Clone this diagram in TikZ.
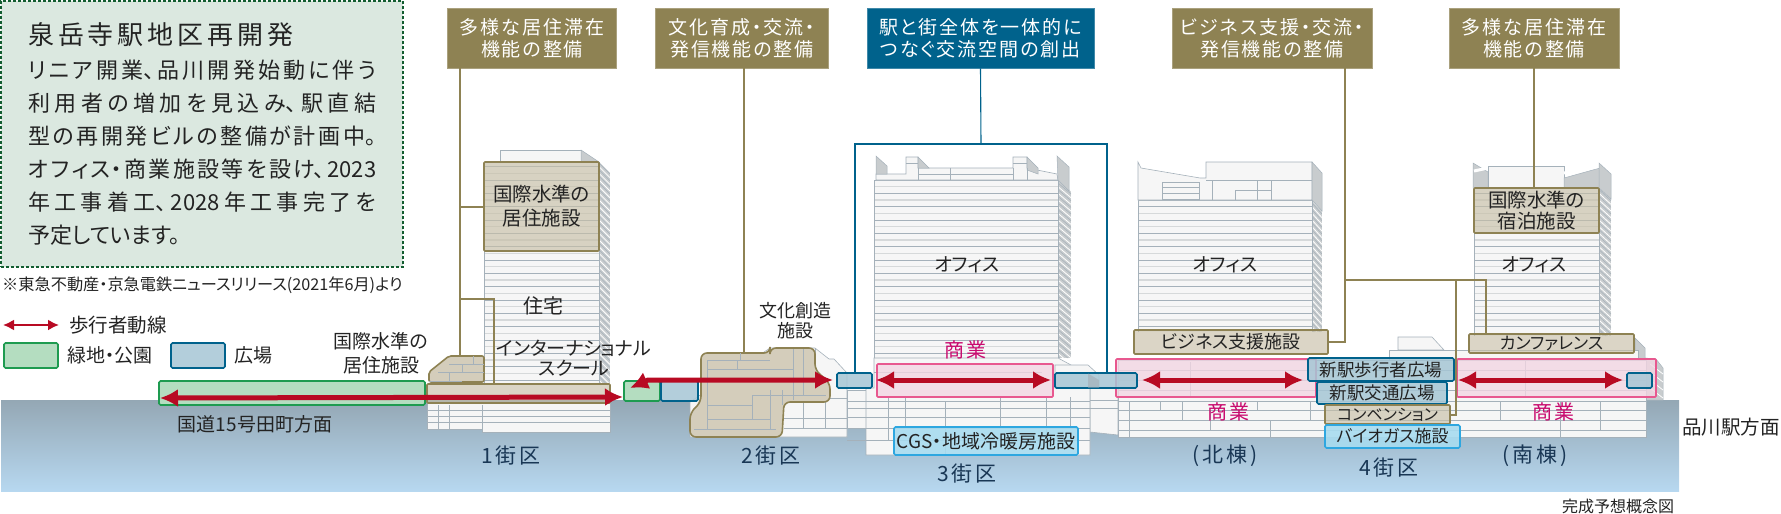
\documentclass[tikz,border=0pt]{standalone}
\usepackage{fontspec}
\setmainfont[RawFeature=+palt]{Noto Sans CJK JP}
\newfontfamily\jpsp[LetterSpace=10,RawFeature=+palt]{Noto Sans CJK JP}
\newfontfamily\jpwd[LetterSpace=15,RawFeature=+palt]{Noto Sans CJK JP}
\definecolor{kbrown}{RGB}{142,130,83}
\definecolor{kblue}{RGB}{0,98,140}
\definecolor{kred}{RGB}{184,10,35}
\definecolor{kpink}{RGB}{232,88,143}
\definecolor{kpinkfill}{RGB}{243,214,226}
\definecolor{kbeige}{RGB}{199,191,167}
\definecolor{ktan}{RGB}{212,205,187}
\definecolor{kgreen}{RGB}{30,155,80}
\definecolor{kgreenfill}{RGB}{180,221,192}
\definecolor{knote}{RGB}{219,232,224}
\definecolor{kplaza}{RGB}{166,198,213}
\definecolor{ksky}{RGB}{168,220,240}
\definecolor{kskyline}{RGB}{46,167,224}
\definecolor{kmagenta}{RGB}{200,10,110}
\definecolor{kwall}{RGB}{246,246,246}
\definecolor{kline}{RGB}{165,177,186}
\definecolor{kside}{RGB}{200,204,206}
\definecolor{kink}{RGB}{35,35,35}
\definecolor{knavy}{RGB}{25,55,85}
\definecolor{kgroundtop}{RGB}{148,167,180}
\definecolor{kgroundbot}{RGB}{183,216,240}
\usetikzlibrary{arrows.meta,positioning}
\tikzset{
  headbox/.style={fill=kbrown,draw=kbrown!75!white,line width=.8pt,text=white,minimum height=60pt,inner sep=0pt,align=center,font=\jpsp\fontsize{19}{22}\selectfont},
  tanbox/.style={fill=kbeige,fill opacity=.65,text opacity=1,draw=kbrown,line width=1.6pt,rounded corners=1pt,inner sep=0pt,align=center,text=kink},
  plazabox/.style={fill=kplaza,fill opacity=.85,text opacity=1,draw=kblue,line width=1.6pt,rounded corners=1.5pt,inner sep=0pt,align=center,text=kink},
  skybox/.style={fill=ksky,fill opacity=.9,text opacity=1,draw=kskyline,line width=1.6pt,rounded corners=1.5pt,inner sep=0pt,align=center,text=kink},
  shopbox/.style={fill=kpinkfill,fill opacity=.8,draw=kpink,line width=1.6pt,rounded corners=1pt,inner sep=0pt},
  parkbox/.style={fill=kgreenfill,draw=kgreen,line width=1.6pt,rounded corners=1.5pt,inner sep=0pt},
  lab/.style={text=kink,inner sep=0pt,align=center,font=\fontsize{19}{24}\selectfont},
  shoplab/.style={text=kmagenta,inner sep=0pt,font=\jpsp\fontsize{20}{24}\selectfont},
  blocklab/.style={text=knavy,inner sep=0pt,font=\jpwd\fontsize{21}{24}\selectfont},
  leader/.style={draw=kbrown,line width=1.1pt},
  leaderb/.style={draw=kblue,line width=1.1pt},
  walk/.style={draw=kred,line width=5pt,{Latex[length=18pt,width=18pt]}-{Latex[length=18pt,width=18pt]}},
  wall/.style={fill=kwall,draw=kline,line width=.6pt},
  wedge/.style={fill=kside,draw=kline,line width=.5pt},
  grid/.style={draw=kline,line width=.7pt},
}
\begin{document}
\begin{tikzpicture}[x=1pt,y=-1pt]
  \useasboundingbox (0,0) rectangle (1781,514);
  % ground
  \shade[top color=kgroundtop,bottom color=kgroundbot] (1,400) rectangle (1679,491);
  % towers: left, right, side, top, bottom
  \foreach \xa/\xb/\xc/\ya/\yb in {484/599/610/162/385, 874/1058/1071/180/358, 1138/1312/1322/200/332, 1474/1599/1611/188/336}{
    \begin{scope}
      \clip (\xb,\ya) -- (\xc,\ya+11) -- (\xc,\yb) -- (\xb,\yb) -- cycle;
      \fill[kside] (\xb,\ya) rectangle (\xc,\yb);
      \foreach \y in {140,146.67,...,400}
        \draw[white,line width=.8pt] (\xb,\y) -- (\xc,\y+11);
      \foreach \y in {143,149.67,...,403}
        \draw[kline,line width=.5pt] (\xb,\y) -- (\xc,\y+11);
    \end{scope}
    \fill[kwall] (\xa,\ya) rectangle (\xb,\yb);
    \begin{scope}
      \clip (\xa,\ya) rectangle (\xb,\yb);
      \foreach \y in {140,153.34,...,400}
        \draw[kline,line width=.8pt] (\xa,\y) -- (\xb,\y);
      \foreach \y in {146.67,160.01,...,400}
        \draw[kside!75!white,line width=1.3pt] (\xa,\y) -- (\xb,\y);
    \end{scope}
    \draw[kline,line width=.6pt] (\xa,\yb) -- (\xa,\ya) -- (\xb,\ya) -- (\xb,\yb);
  }
  % 1 block top and base
  \draw[wall] (500,162) -- (500,150) -- (581,150) -- (581,162) -- cycle;
  \draw[wedge] (581,150) -- (599,162) -- (581,162) -- cycle;
  \draw[wall] (427,403) -- (610,403) -- (610,432) -- (482,432) -- (482,429) -- (427,429) -- cycle;
  \foreach \y in {410,416,422}
    \draw[grid] (427,\y) -- (610,\y);
  \foreach \x in {438,449,482}
    \draw[grid] (\x,405) -- (\x,429);
  % 2 block back
  \draw[wall] (770,348) -- (815,348) -- (829,359) -- (834,359) -- (847,373) -- (847,437) -- (690,437) -- (690,402) -- cycle;
  \foreach \x/\ya/\yb in {803/395/428, 825/395/428, 815/348/359}
    \draw[grid] (\x,\ya) -- (\x,\yb);
  \foreach \y in {398,418,428}
    \draw[grid] (784,\y) -- (847,\y);
  % 3 block roof
  \draw[wall] (876,174) -- (906,174) -- (906,157) -- (918,157) -- (918,168) -- (1013,168) -- (1013,157) -- (1027,157) -- (1027,168) -- (1057,174) -- (1058,180) -- (876,180) -- cycle;
  \draw[wedge] (876,156) -- (887,166) -- (887,174) -- (876,174) -- cycle;
  \draw[wedge] (918,157) -- (929,168) -- (918,168) -- cycle;
  \draw[wedge] (1027,157) -- (1038,168) -- (1038,174) -- (1027,170) -- cycle;
  \draw[wedge] (1057,156) -- (1069,167) -- (1069,191) -- (1058,180) -- cycle;
  \foreach \xa/\xb/\y in {906/918/163, 1013/1027/163, 918/1013/174}
    \draw[grid] (\xa,\y) -- (\xb,\y);
  \foreach \x/\ya/\yb in {918/168/180, 950/168/180, 1013/168/180, 1027/168/180}
    \draw[grid] (\x,\ya) -- (\x,\yb);
  % 3 block podium and the wings round it
  \draw[wall] (847,390) rectangle (866,428);
  \draw[wall] (1090,388) -- (1118,388) -- (1118,435) -- (1090,432) -- cycle;
  \draw[wall] (866,388) -- (874,388) -- (874,358) -- (1058,358) -- (1071,365) -- (1071,388) -- (1090,388) -- (1090,455) -- (866,455) -- cycle;
  \draw[wall] (1055,365) -- (1088,365) -- (1099,375) -- (1099,388) -- (1055,388) -- cycle;
  \foreach \y in {401,408,417,428,440}
    \draw[grid] (847,\y) -- (1090,\y);
  \foreach \y in {400,408}
    \draw[grid] (1090,\y) -- (1118,\y);
  \foreach \x/\ya/\yb in {888/397/440, 905/397/428, 945/401/455, 1000/397/428, 1046/397/440, 1070/397/428}
    \draw[grid] (\x,\ya) -- (\x,\yb);
  \foreach \xa/\xb/\y in {874/960/372, 960/1042/372, 900/960/364}
    \draw[grid] (\xa,\y) -- (\xb,\y);
  % 4 block roof north
  \draw[wall] (1138,200) -- (1138,162) -- (1141,168) -- (1200,178) -- (1206,178) -- (1206,162) -- (1312,162) -- (1312,200) -- cycle;
  \draw[wedge] (1312,162) -- (1322,173) -- (1322,211) -- (1312,200) -- cycle;
  \foreach \y in {187,193,199}
    \draw[grid] (1162,\y) -- (1199,\y);
  \draw[grid] (1162,182) -- (1199,182) -- (1199,200);
  \draw[grid] (1162,182) -- (1162,200);
  \draw[grid] (1206,180) -- (1312,180);
  \foreach \x in {1212,1257,1271}
    \draw[grid] (\x,180) -- (\x,200);
  \draw[grid] (1235,200) -- (1235,190) -- (1271,190);
  % 4 block roof south
  \draw[wedge] (1473,163) -- (1488,172) -- (1488,188) -- (1473,188) -- cycle;
  \draw[white,line width=3pt] (1474,171) -- (1488,168);
  \draw[wall] (1488,188) -- (1488,166) -- (1564,166) -- (1564,188);
  \draw[wedge] (1564,178) -- (1600,168) -- (1600,188) -- (1564,188) -- cycle;
  \draw[white,line width=3pt] (1564,173) -- (1600,166);
  \draw[wedge] (1599,163) -- (1611,174) -- (1611,199) -- (1599,188) -- cycle;
  % 4 block podium
  \draw[wall] (1398,350) -- (1398,337) -- (1432,337) -- (1444,350) -- cycle;
  \draw[wedge] (1635,338) -- (1645,348) -- (1645,358) -- (1656,359) -- (1663,368) -- (1663,400) -- (1635,400) -- cycle;
  \foreach \y in {370,378,386,394}
    \draw[white,line width=.8pt] (1650,\y-6) -- (1663,\y+4);
  \draw[wall] (1389,350) rectangle (1638,360);
  \draw[wall] (1118,360) rectangle (1646,437);
  \foreach \y in {370,380,390,401,410,420,430}
    \draw[grid] (1118,\y) -- (1646,\y);
  \foreach \x/\ya/\yb in {1129/401/437, 1160/401/410, 1182/401/420, 1190/362/397, 1257/401/410, 1270/420/437, 1310/401/420, 1500/401/420, 1560/401/437, 1210/410/430, 1600/401/430, 1525/361/397}
    \draw[grid] (\x,\ya) -- (\x,\yb);
  % shop floors
  \node[shopbox,minimum width=176pt,minimum height=33pt] (shopthree) at (965,380.5) {};
  \node[shopbox,minimum width=200pt,minimum height=38pt] (shopnorth) at (1216,378) {};
  \node[shopbox,minimum width=199pt,minimum height=38pt] (shopsouth) at (1556.5,378) {};
  % parks and squares
  \node[parkbox,minimum width=266pt,minimum height=24pt] (parkroad) at (292,393) {};
  \node[parkbox,minimum width=36pt,minimum height=20pt] (parksmall) at (642,391) {};
  \node[plazabox,minimum width=37pt,minimum height=20pt] (plazaleft) at (679.5,391) {};
  \node[plazabox,minimum width=35pt,minimum height=15pt] (plazamid) at (854.5,380.5) {};
  \node[plazabox,minimum width=82pt,minimum height=15pt] (plazaright) at (1096,380.5) {};
  \fill[kline,opacity=.7] (1088,373.5) -- (1099,380) -- (1099,387.5) -- (1088,387.5) -- cycle;
  \node[plazabox,minimum width=25pt,minimum height=15pt] (plazasouth) at (1639.5,380.5) {};
  % tan areas
  \draw[fill=ktan,draw=kbrown,line width=1.6pt,rounded corners=2pt] (429,382) -- (429,372) -- (449,356) -- (484,356) -- (484,382) -- cycle;
  \foreach \xa/\xb/\y in {449/484/364, 438/484/372, 429/462/381}
    \draw[grid] (\xa,\y) -- (\xb,\y);
  \foreach \x/\ya/\yb in {449/372/381, 462/364/372, 473/356/364}
    \draw[grid] (\x,\ya) -- (\x,\yb);
  \node[tanbox,minimum width=183pt,minimum height=19pt] (bandone) at (518.5,393.5) {};
  \draw[fill=ktan,draw=kbrown,line width=1.6pt,rounded corners=6pt] (701,353) -- (770,353) -- (770,348) -- (815,348) -- (815,370) -- (830,383) -- (830,402) -- (784,402) -- (782,437) -- (690,437) -- (690,413) -- (701,402) -- cycle;
  \foreach \xa/\xb/\y in {707/770/360, 707/793/369, 753/826/395, 707/753/405, 707/770/419, 694/776/429}
    \draw[grid] (\xa,\y) -- (\xb,\y);
  \foreach \x/\ya/\yb in {707/360/429, 740/353/360, 737/360/369, 793/349/400, 803/349/395, 752/395/420, 770/390/430, 782/390/405}
    \draw[grid] (\x,\ya) -- (\x,\yb);
  % named boxes
  \node[tanbox,font=\fontsize{19.5}{24}\selectfont,minimum width=115pt,minimum height=89pt] (livetower) at (541.5,206.5) {国際水準の\\居住施設};
  \node[tanbox,font=\fontsize{19.5}{21}\selectfont,minimum width=125pt,minimum height=45pt] (staytower) at (1536.5,210.5) {国際水準の\\宿泊施設};
  \node[tanbox,font=\fontsize{18}{22}\selectfont,minimum width=194pt,minimum height=24pt] (bizbox) at (1231,342) {ビジネス支援施設};
  \node[tanbox,font=\fontsize{17}{22}\selectfont,minimum width=165pt,minimum height=19pt] (confbox) at (1551.5,343.5) {カンファレンス};
  \node[plazabox,font=\fontsize{17.5}{22}\selectfont,minimum width=146pt,minimum height=23pt] (walksq) at (1381,369.5) {新駅歩行者広場};
  \node[plazabox,font=\fontsize{17.5}{22}\selectfont,minimum width=130pt,minimum height=22pt] (transq) at (1382,393) {新駅交通広場};
  \node[tanbox,font=\fontsize{16}{22}\selectfont,minimum width=125pt,minimum height=19pt] (convbox) at (1387.5,414.5) {コンベンション};
  \node[skybox,font=\fontsize{17}{22}\selectfont,minimum width=135pt,minimum height=23pt] (biobox) at (1392.5,436.5) {バイオガス施設};
  \node[skybox,font=\fontsize{19}{22}\selectfont,minimum width=184pt,minimum height=28pt] (cgsbox) at (986,441) {CGS・地域冷暖房施設};
  % heads
  \node[headbox,minimum width=169pt] (headone) at (532,38) {多様な居住滞在\\機能の整備};
  \node[headbox,minimum width=173pt] (headtwo) at (742,38) {文化育成・交流・\\発信機能の整備};
  \node[headbox,fill=kblue,draw=kblue!75!white,minimum width=227pt] (headthree) at (980.5,38) {駅と街全体を一体的に\\つなぐ交流空間の創出};
  \node[headbox,minimum width=200pt] (headfour) at (1272,38) {ビジネス支援・交流・\\発信機能の整備};
  \node[headbox,minimum width=170pt] (headfive) at (1534,38) {多様な居住滞在\\機能の整備};
  % leaders
  \coordinate (leadone) at (460,68);
  \coordinate (leadfour) at (1345,68);
  \draw[leader] (leadone) -- (460,356);
  \draw[leader] (460,207) -- (livetower.west |- 0,207);
  \draw[leader] (460,299) -- (494,299) -- (494,384);
  \draw[leader] (headtwo.south -| 744,0) -- (744,353);
  \draw[leaderb] (headthree.south) -- (981,144);
  \draw[leaderb] (plazamid.north -| 855,0) -- (855,144) -- (1107,144) -- (1107,373);
  \draw[leader] (leadfour) -- (1345,342) -- (bizbox.east |- 0,342);
  \draw[leader] (1345,280) -- (1486,280) -- (1486,334);
  \draw[leader] (1456,280) -- (1456,415) -- (convbox.east |- 0,415);
  \draw[leader] (headfive.south) -- (staytower.north -| headfive.south);
  % walking routes
  \coordinate (walka) at (160,398);
  \coordinate (walkb) at (623,397);
  \coordinate (walkc) at (630,388);
  \coordinate (walkd) at (648,380);
  \coordinate (walke) at (833,380);
  \draw[walk] (walka) -- (walkb);
  \draw[walk] (walkc) -- (walkd) -- (walke);
  \draw[walk] (876,380) -- (1051,380);
  \draw[walk] (1142,380) -- (1303,380);
  \draw[walk] (1458,380) -- (1623,380);
  % note box
  \node[fill=knote,draw=kgreen!60!black,dash pattern=on 3pt off 2pt,line width=1.2pt,minimum width=402pt,minimum height=266pt,inner sep=0pt] (notebox) at (202,134) {};
  \node[anchor=west,text=kink,inner sep=0pt,font=\jpwd\fontsize{26}{30}\selectfont] (notetitle) at (28,35) {泉岳寺駅地区再開発};
  \node[anchor=north west,text=kink,inner sep=0pt,text width=348pt,align=justify,font=\fontsize{22}{33}\selectfont] (notetext) at (28,60) {\XeTeXlinebreaklocale "ja"\XeTeXlinebreakskip=0pt plus 6pt minus 1pt\tolerance=9999\hbadness=10000 リニア開業、品川開発始動に伴う\linebreak 利用者の増加を見込み、駅直結\linebreak 型の再開発ビルの整備が計画中。\linebreak オフィス・商業施設等を設け、2023\linebreak 年工事着工、2028年工事完了を\linebreak \hbox{予定しています。}};
  \node[anchor=west,lab,font=\fontsize{16.2}{20}\selectfont] (notesrc) at (2,285) {※東急不動産・京急電鉄ニュースリリース(2021年6月)より};
  % legend
  \coordinate (legwa) at (3,325);
  \coordinate (legwb) at (59,325);
  \draw[draw=kred,line width=2pt,{Latex[length=11pt,width=11pt]}-{Latex[length=11pt,width=11pt]}] (legwa) -- (legwb);
  \node[anchor=west,lab,font=\fontsize{19.5}{24}\selectfont] (legwalk) at (69,325) {歩行者動線};
  \node[parkbox,minimum width=54pt,minimum height=25pt] (legpark) at (31,355.5) {};
  \node[anchor=west,lab] (legparktxt) at (67,355) {緑地・公園};
  \node[plazabox,minimum width=54pt,minimum height=25pt] (legplaza) at (198,355.5) {};
  \node[anchor=west,lab] (legplazatxt) at (234,355) {広場};
  % labels
  \node[lab] (livelab) at (381,353.5) {国際水準の\\居住施設};
  \node[lab,font=\fontsize{20}{24}\selectfont] (homelab) at (543,306) {住宅};
  \node[lab,font=\fontsize{19}{20}\selectfont] (schoollab) at (574,358) {インターナショナル\\スクール};
  \node[lab,font=\fontsize{18}{20}\selectfont] (artlab) at (795,321) {文化創造\\施設};
  \node[lab,font=\fontsize{19}{24}\selectfont] (roadlab) at (255,424) {国道15号田町方面};
  \node[lab,font=\fontsize{19}{24}\selectfont] (officea) at (967,265) {オフィス};
  \node[lab,font=\fontsize{19}{24}\selectfont] (officeb) at (1225,265) {オフィス};
  \node[lab,font=\fontsize{19}{24}\selectfont] (officec) at (1534,265) {オフィス};
  \node[shoplab] (shopa) at (965.5,350) {商業};
  \node[shoplab] (shopb) at (1228,412) {商業};
  \node[shoplab] (shopc) at (1553,412) {商業};
  \node[blocklab] (blockone) at (511,456) {1街区};
  \node[blocklab] (blocktwo) at (771,456) {2街区};
  \node[blocklab] (blockthree) at (967,474) {3街区};
  \node[blocklab] (blockfour) at (1389,468) {4街区};
  \node[blocklab] (blocknorth) at (1225,456) {(北棟)};
  \node[blocklab] (blocksouth) at (1535,456) {(南棟)};
  \node[lab,font=\fontsize{19.5}{24}\selectfont] (stationlab) at (1731,427) {品川駅方面};
  \node[lab,font=\fontsize{16}{20}\selectfont] (planlab) at (1618,506) {完成予想概念図};
\end{tikzpicture}
\end{document}
